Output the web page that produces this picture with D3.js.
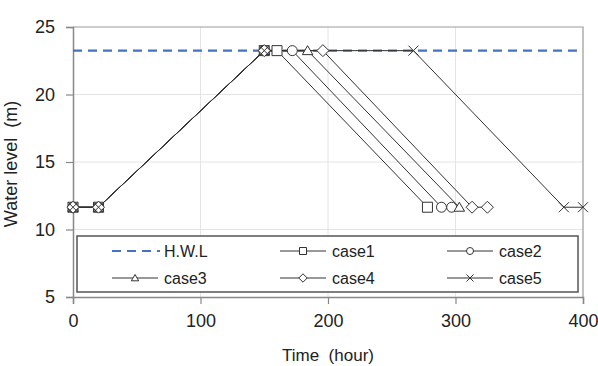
<!DOCTYPE html>
<html>
<head>
<meta charset="utf-8">
<script src="https://cdn.jsdelivr.net/npm/d3@7"></script>
<style>
  body { margin: 0; background: #fff; }
  text { font-family: "Liberation Sans", Arial, sans-serif; fill: #222; white-space: pre; }
</style>
</head>
<body>
<svg id="chart" width="598" height="366"></svg>
<script>
// values
const hwl = 23.25;
const low = 11.65;
const caseNames = ["case1", "case2", "case3", "case4", "case5"];
const case1 = [[0, low], [20, low], [150, hwl], [160, hwl], [278, low]];
const case2 = [[0, low], [20, low], [150, hwl], [172, hwl], [289, low], [297, low]];
const case3 = [[0, low], [20, low], [150, hwl], [184, hwl], [303, low]];
const case4 = [[0, low], [20, low], [150, hwl], [196, hwl], [313, low], [325, low]];
const case5 = [[0, low], [20, low], [150, hwl], [267, hwl], [385, low], [400, low]];
const caseData = [case1, case2, case3, case4, case5];
const xTicks = [0, 100, 200, 300, 400];
const yTicks = [5, 10, 15, 20, 25];

const svg = d3.select("#chart");
const x = d3.scaleLinear().domain([0, 400]).range([73, 583]);
const y = d3.scaleLinear().domain([5, 25]).range([297, 27]);

// light grid
svg.append("g").selectAll("line").data(xTicks.slice(1, -1)).join("line")
  .attr("x1", d => x(d)).attr("x2", d => x(d))
  .attr("y1", y(25)).attr("y2", y(5))
  .attr("stroke", "#e4e4e4");
svg.append("g").selectAll("line").data(yTicks.slice(1, -1)).join("line")
  .attr("x1", x(0)).attr("x2", x(400))
  .attr("y1", d => y(d)).attr("y2", d => y(d))
  .attr("stroke", "#e4e4e4");

// frame top / right
svg.append("path")
  .attr("d", `M${x(0)},${y(25)}H${x(400)}V${y(5)}`)
  .attr("fill", "none").attr("stroke", "#999").attr("stroke-width", 1.2);

// axes
const xAxis = svg.append("g").attr("transform", `translate(0,${y(5)})`)
  .call(d3.axisBottom(x).tickValues(xTicks).tickSize(7).tickPadding(10));
const yAxis = svg.append("g").attr("transform", `translate(${x(0)},0)`)
  .call(d3.axisLeft(y).tickValues(yTicks).tickSize(7).tickPadding(11));
[xAxis, yAxis].forEach(a => {
  a.select(".domain").attr("stroke", "#888").attr("stroke-width", 1.5);
  a.selectAll(".tick line").attr("stroke", "#888").attr("stroke-width", 1.2);
  a.selectAll("text").style("font-size", "18px").attr("fill", "#222");
});

svg.append("text").attr("x", 328).attr("y", 361)
  .attr("text-anchor", "middle").style("font-size", "17px")
  .text("Time  (hour)");
svg.append("text").attr("transform", "translate(17,164) rotate(-90)")
  .attr("text-anchor", "middle").style("font-size", "18px")
  .text("Water level  (m)");

// marker shapes
function marker(i, r) {
  if (i === 0) return `M${-r},${-r}H${r}V${r}H${-r}Z`;
  if (i === 1) return d3.arc()({ innerRadius: 0, outerRadius: r, startAngle: 0, endAngle: 2 * Math.PI });
  if (i === 2) return `M0,${-r}L${r * 1.05},${r * 0.8}H${-r * 1.05}Z`;
  if (i === 3) return `M0,${-r * 1.2}L${r * 1.2},0L0,${r * 1.2}L${-r * 1.2},0Z`;
  return `M${-r},${-r}L${r},${r}M${r},${-r}L${-r},${r}`;
}

// H.W.L line
svg.append("line")
  .attr("x1", x(0)).attr("x2", x(400))
  .attr("y1", y(hwl)).attr("y2", y(hwl))
  .attr("stroke", "#4472c4").attr("stroke-width", 2.2)
  .attr("stroke-dasharray", "9,6");

const line = d3.line().x(d => x(d[0])).y(d => y(d[1]));
caseData.forEach((pts, i) => {
  svg.append("path").datum(pts).attr("d", line)
    .attr("fill", "none").attr("stroke", "#333").attr("stroke-width", 1);
});
caseData.forEach((pts, i) => {
  svg.append("g").selectAll("path").data(pts).join("path")
    .attr("transform", d => `translate(${x(d[0])},${y(d[1])})`)
    .attr("d", marker(i, 5))
    .attr("fill", i === 4 ? "none" : "#fff")
    .attr("stroke", "#333").attr("stroke-width", 1);
});

// legend
svg.append("rect").attr("x", 77).attr("y", 236).attr("width", 501).attr("height", 56)
  .attr("fill", "#fff").attr("stroke", "#555").attr("stroke-width", 1.5);
const legendItems = ["H.W.L"].concat(caseNames);
const colX = [112, 280, 447];
const rowY = [251, 278];
legendItems.forEach((name, k) => {
  const lx = colX[k % 3], ly = rowY[Math.floor(k / 3)];
  const g = svg.append("g");
  if (k === 0) {
    g.append("line").attr("x1", lx).attr("x2", lx + 48).attr("y1", ly).attr("y2", ly)
      .attr("stroke", "#4472c4").attr("stroke-width", 2.2).attr("stroke-dasharray", "9,6");
  } else {
    g.append("line").attr("x1", lx).attr("x2", lx + 46).attr("y1", ly).attr("y2", ly)
      .attr("stroke", "#333").attr("stroke-width", 1);
    g.append("path").attr("transform", `translate(${lx + 23},${ly})`)
      .attr("d", marker(k - 1, 3.5))
      .attr("fill", k === 5 ? "none" : "#fff").attr("stroke", "#333");
  }
  g.append("text").attr("x", lx + 52).attr("y", ly + 6)
    .style("font-size", "16px").text(name);
});
</script>
</body>
</html>
